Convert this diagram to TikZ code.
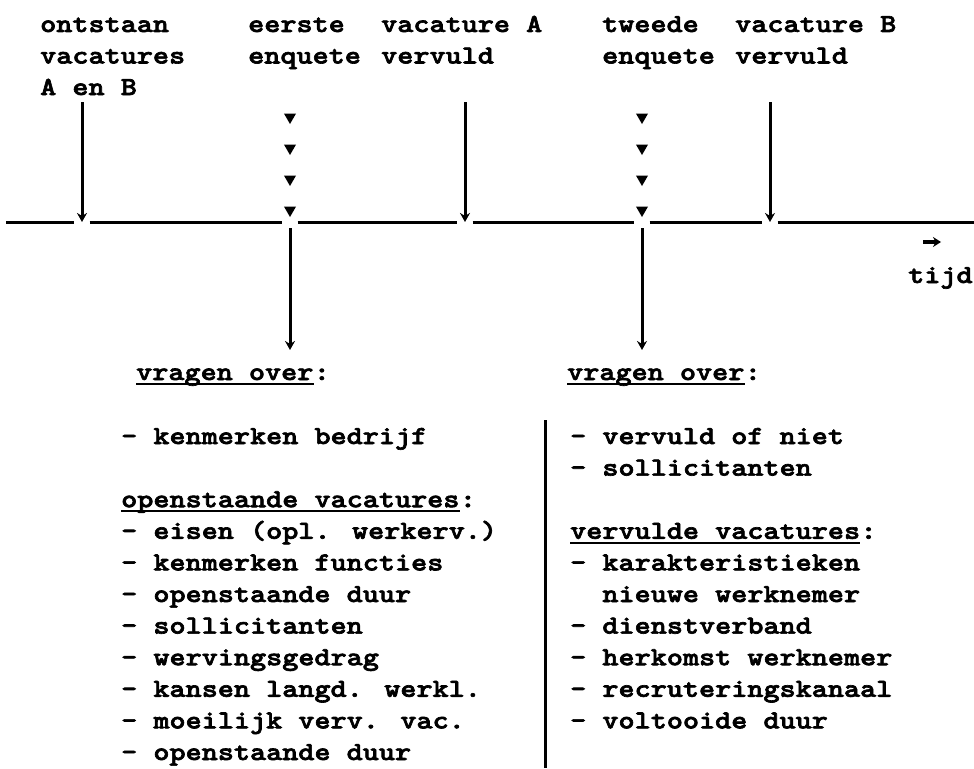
\documentclass[tikz,border=0pt]{standalone}
\usepackage{fontspec}
\usetikzlibrary{arrows.meta,shapes.geometric}
\newfontfamily\twfont[FakeStretch=1.18,FakeBold=2.5]{lmmonolt10-bold.otf}
\newcommand{\tw}{\twfont\fontsize{26pt}{31.6pt}\selectfont}
\begin{document}
\begin{tikzpicture}[x=1pt,y=-1pt,
  txt/.style={font=\tw,inner sep=0pt,anchor=base west},
  event/.style={inner sep=0pt,minimum width=15pt,minimum height=12pt},
  tri/.style={regular polygon,regular polygon sides=3,shape border rotate=180,
    fill=black,inner sep=0pt,minimum size=14pt},
  ln/.style={line width=3pt},
  uline/.style={line width=1.8pt},
  arr/.style={line width=3pt,-{Stealth[length=9pt,width=10pt]}},
  divider/.style={line width=3pt}]
\useasboundingbox (0,0) rectangle (974,768);

% top labels
\node[txt] (l1a) at (40,32)   {ontstaan};
\node[txt] (l1b) at (40,63.5) {vacatures};
\node[txt] (l1c) at (40,95)   {A en B};
\node[txt] (l2a) at (248,32)   {eerste};
\node[txt] (l2b) at (248,63.5) {enquete};
\node[txt] (l3a) at (381,32)   {vacature A};
\node[txt] (l3b) at (381,63.5) {vervuld};
\node[txt] (l4a) at (602,32)   {tweede};
\node[txt] (l4b) at (602,63.5) {enquete};
\node[txt] (l5a) at (735,32)   {vacature B};
\node[txt] (l5b) at (735,63.5) {vervuld};

% timeline events
\coordinate (tstart) at (6,222);
\coordinate (tend) at (974,222);
\node[event] (e1) at (82,222) {};
\node[event] (e2) at (290,222) {};
\node[event] (e3) at (465,222) {};
\node[event] (e4) at (642,222) {};
\node[event] (e5) at (770,222) {};
\draw[ln] (tstart) -- (e1.west) (e1.east) -- (e2.west) (e2.east) -- (e3.west)
  (e3.east) -- (e4.west) (e4.east) -- (e5.west) (e5.east) -- (tend);

% arrows onto the timeline
\coordinate (a1) at (82,102);
\coordinate (a3) at (465,102);
\coordinate (a5) at (770,102);
\draw[arr] (a1) -- (e1.center);
\draw[arr] (a3) -- (e3.center);
\draw[arr] (a5) -- (e5.center);

% triangles (enquetes)
\foreach \y [count=\i] in {117,148,179,210} {
  \node[tri] (ta\i) at (290,\y) {};
  \node[tri] (tb\i) at (642,\y) {};
}

% time arrow
\coordinate (ts) at (923,242);
\coordinate (te) at (941,242);
\draw[line width=3.2pt,-{Stealth[length=8pt,width=10pt]}] (ts) -- (te);
\node[txt] (tijd) at (908,283) {tijd};

% question headings
\node[txt] (vo1) at (136,380) {vragen over};
\node[txt] (vo1c) at (vo1.base east) {:};
\node[txt] (vo2) at (567,380) {vragen over};
\node[txt] (vo2c) at (vo2.base east) {:};
\coordinate (d1) at (290,350);
\coordinate (d2) at (642,350);
\draw[arr] (e2.south) -- (d1);
\draw[arr] (e4.south) -- (d2);

% left list
\foreach \t [count=\i from 0] in {%
  {- kenmerken bedrijf},{},{},
  {- eisen (opl. werkerv.)},{- kenmerken functies},{- openstaande duur},
  {- sollicitanten},{- wervingsgedrag},{- kansen langd. werkl.},
  {- moeilijk verv. vac.},{- openstaande duur}} {
  \node[txt] (L\i) at (121,444+31.6*\i) {\t};
}
\node[txt] (hL) at (121,444+31.6*2) {openstaande vacatures};
\node[txt] (hLc) at (hL.base east) {:};

% divider
\coordinate (dv1) at (545,420);
\coordinate (dv2) at (545,768);
\draw[divider] (dv1) -- (dv2);

% right list
\foreach \t [count=\i from 0] in {%
  {- vervuld of niet},{- sollicitanten},{},{},
  {- karakteristieken},{\ \ nieuwe werknemer},{- dienstverband},
  {- herkomst werknemer},{- recruteringskanaal},{- voltooide duur}} {
  \node[txt] (R\i) at (570,444+31.6*\i) {\t};
}
\node[txt] (hR) at (570,444+31.6*3) {vervulde vacatures};
\node[txt] (hRc) at (hR.base east) {:};

% underlines
\foreach \n in {vo1,vo2,hL,hR} {
  \draw[uline] ([yshift=-4pt]\n.base west) -- ([yshift=-4pt]\n.base east);
}
\end{tikzpicture}
\end{document}
